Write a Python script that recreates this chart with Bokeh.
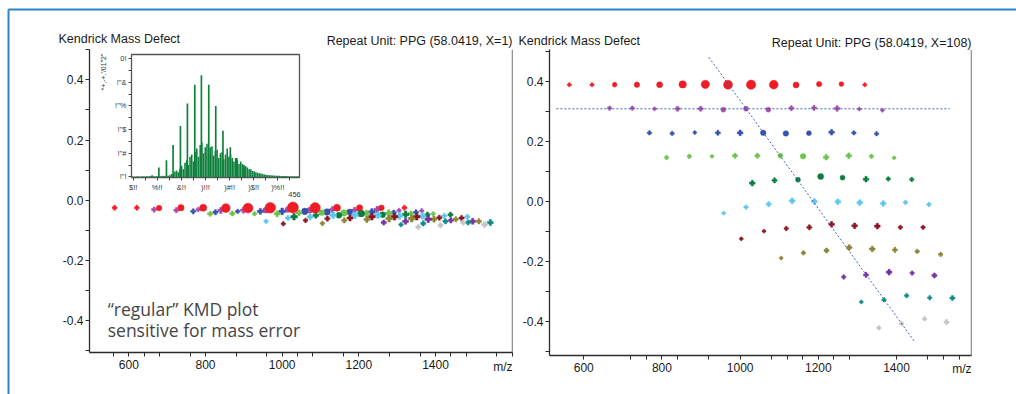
import math
from bokeh.plotting import figure
from bokeh.models import Range1d, FixedTicker, PrintfTickFormatter, Label, Span, ColumnDataSource
from bokeh.embed import file_html
from bokeh.resources import INLINE

# ---------------- data ----------------
# homologous series: m/z, KMD with X=108, KMD with X=1 ("regular"), relative abundance
red_mz = [563, 621, 679, 736, 794, 853, 911, 969, 1028, 1086, 1143, 1202, 1259, 1319]
red_k108 = [0.388, 0.388, 0.388, 0.388, 0.388, 0.389, 0.389, 0.388, 0.388, 0.388, 0.387, 0.390, 0.390, 0.388]
red_k1 = [-0.025, -0.025, -0.026, -0.025, -0.025, -0.026, -0.026, -0.025, -0.024, -0.025, -0.025, -0.025, -0.025, -0.025]
red_ab = [10, 10, 31, 41, 51, 71, 84, 94, 99, 91, 50, 40, 32, 10]

mag_mz = [666, 724, 781, 840, 899, 957, 1015, 1072, 1131, 1189, 1248, 1305, 1364]
mag_k108 = [0.310, 0.310, 0.308, 0.308, 0.308, 0.305, 0.308, 0.305, 0.310, 0.311, 0.309, 0.307, 0.303]
mag_k1 = [-0.031, -0.033, -0.031, -0.034, -0.033, -0.033, -0.031, -0.033, -0.031, -0.033, -0.031, -0.034, -0.035]
mag_ab = [13, 13, 6, 21, 21, 35, 35, 35, 21, 21, 28, 6, 6]

blue_mz = [768, 826, 884, 943, 1000, 1059, 1117, 1176, 1234, 1291, 1349]
blue_k108 = [0.228, 0.226, 0.229, 0.228, 0.228, 0.228, 0.226, 0.227, 0.230, 0.228, 0.225]
blue_k1 = [-0.037, -0.040, -0.037, -0.037, -0.037, -0.037, -0.039, -0.039, -0.039, -0.041, -0.040]
blue_ab = [13, 13, 6, 21, 28, 43, 43, 35, 28, 13, 13]

lgreen_mz = [812, 870, 928, 987, 1044, 1103, 1161, 1220, 1278, 1336, 1394]
lgreen_k108 = [0.146, 0.150, 0.150, 0.152, 0.152, 0.152, 0.150, 0.147, 0.152, 0.150, 0.145]
lgreen_k1 = [-0.045, -0.044, -0.045, -0.045, -0.042, -0.041, -0.042, -0.044, -0.043, -0.044, -0.045]
lgreen_ab = [13, 13, 6, 21, 21, 35, 43, 28, 28, 13, 6]

dgreen_mz = [1031, 1088, 1148, 1206, 1262, 1322, 1379, 1439]
dgreen_k108 = [0.061, 0.070, 0.072, 0.083, 0.079, 0.074, 0.075, 0.073]
dgreen_k1 = [-0.055, -0.050, -0.050, -0.044, -0.048, -0.047, -0.048, -0.048]
dgreen_ab = [28, 21, 35, 50, 35, 28, 13, 13]

lblue_mz = [958, 1015, 1073, 1133, 1190, 1250, 1306, 1366, 1423, 1483]
lblue_k108 = [-0.039, -0.019, -0.009, 0.002, 0.000, -0.001, -0.004, -0.007, -0.003, -0.010]
lblue_k1 = [-0.070, -0.059, -0.055, -0.050, -0.050, -0.050, -0.052, -0.052, -0.052, -0.055]
lblue_ab = [6, 13, 21, 28, 28, 28, 28, 28, 13, 13]

dred_mz = [1003, 1061, 1118, 1177, 1234, 1293, 1351, 1410, 1468]
dred_k108 = [-0.124, -0.099, -0.090, -0.086, -0.076, -0.081, -0.082, -0.086, -0.086]
dred_k1 = [-0.078, -0.067, -0.061, -0.059, -0.055, -0.055, -0.055, -0.058, -0.059]
dred_ab = [6, 6, 13, 21, 28, 28, 28, 13, 13]

olive_mz = [1105, 1162, 1221, 1279, 1338, 1396, 1453, 1513]
olive_k108 = [-0.188, -0.171, -0.163, -0.153, -0.158, -0.161, -0.166, -0.176]
olive_k1 = [-0.077, -0.067, -0.064, -0.061, -0.061, -0.063, -0.063, -0.070]
olive_ab = [6, 13, 21, 28, 28, 21, 13, 13]

purple_mz = [1265, 1322, 1381, 1440, 1497]
purple_k108 = [-0.251, -0.244, -0.235, -0.238, -0.246]
purple_k1 = [-0.074, -0.070, -0.063, -0.067, -0.070]
purple_ab = [13, 21, 28, 13, 21]

teal_mz = [1310, 1368, 1426, 1485, 1543]
teal_k108 = [-0.334, -0.327, -0.313, -0.320, -0.321]
teal_k1 = [-0.081, -0.077, -0.070, -0.074, -0.074]
teal_ab = [6, 13, 13, 13, 21]

gray_mz = [1355, 1413, 1472, 1528]
gray_k108 = [-0.420, -0.406, -0.390, -0.401]
gray_k1 = [-0.089, -0.083, -0.074, -0.081]
gray_ab = [13, 13, 13, 21]

# guide lines drawn in the X=108 plot
guide_h_mz = [530, 1536]
guide_h_kmd = [0.308, 0.308]
guide_d_mz = [920, 1447]
guide_d_kmd = [0.479, -0.467]

# inset mass spectrum (relative intensity, %)
spec_peak_mz = [557, 613, 676, 731, 792, 850, 911, 966, 1027, 1085, 1145, 1206, 1260, 1319]
spec_peak_int = [1.5, 8, 14, 27, 43, 62, 78, 86, 78, 60, 39, 25, 16, 10]
spec_bg_mz = [396, 410, 424, 438, 452, 466, 480, 494, 508, 522, 536, 550, 564, 578, 592, 606, 620, 634, 648, 662, 676,
              690, 704, 718, 732, 746, 760, 774, 788, 802, 816, 830, 844, 858, 872, 886, 900, 914, 928, 942, 956,
              970, 984, 998, 1012, 1026, 1040, 1054, 1068, 1082, 1096, 1110, 1124, 1138, 1152, 1166, 1180, 1194,
              1208, 1222, 1236, 1250, 1264, 1278, 1292, 1306, 1320, 1334, 1348, 1362, 1376, 1390, 1404, 1418,
              1432, 1446, 1460, 1474, 1488, 1502, 1516, 1530, 1544, 1558, 1572, 1586, 1600, 1614, 1628, 1642,
              1656, 1670, 1684, 1698, 1712, 1726, 1740, 1754, 1768]
spec_bg_int = [0.4, 0.4, 0.4, 0.5, 0.4, 0.4, 0.5, 0.4, 0.5, 0.5, 0.6, 0.8, 0.6, 0.5, 0.6, 0.7, 0.6, 0.8, 0.9, 0.8, 0.9,
               1.0, 1.5, 2.5, 2.0, 4.5, 5.5, 4.0, 7.0, 9.5, 6.5, 12, 14, 10, 17, 19, 13, 21, 24, 17, 27,
               29, 20, 25, 28, 19, 25, 26, 18, 22, 23, 16, 20, 21, 15, 19, 24,
               17, 19, 16, 13, 16, 14, 11, 13, 11, 8.5, 9, 8, 6.5, 6.5, 5, 4.8, 4,
               3.5, 3, 2.8, 2.4, 2, 1.9, 1.7, 1.5, 1.3, 1.2, 1.1, 1.0, 0.9, 0.9, 0.8, 0.8,
               0.7, 0.7, 0.6, 0.6, 0.6, 0.5, 0.5, 0.5, 0.5]

# tick labels
main_x_ticks = [600, 800, 1000, 1200, 1400]
main_y_ticks = [-0.4, -0.2, 0.0, 0.2, 0.4]
inset_x_labels = {400: "$!!", 600: "%!!", 800: "&!!", 1000: ")!!!", 1200: ")#!!", 1400: ")$!!", 1600: ")%!!"}
inset_y_labels = {0: '!"!', 20: '!"#', 40: '!"$', 60: '!"%', 80: '!"&', 100: "0!"}

# ---------------- styling ----------------
AXF = "Liberation Sans"
AXC = "#2b2b2b"
BLUE_FRAME = "#2b84c9"
SERIES = [
    (mag_mz, mag_k108, mag_k1, mag_ab, "#a64ca6"),
    (blue_mz, blue_k108, blue_k1, blue_ab, "#3552ad"),
    (lgreen_mz, lgreen_k108, lgreen_k1, lgreen_ab, "#6cc24a"),
    (dgreen_mz, dgreen_k108, dgreen_k1, dgreen_ab, "#0a7d3e"),
    (lblue_mz, lblue_k108, lblue_k1, lblue_ab, "#5cc6ee"),
    (dred_mz, dred_k108, dred_k1, dred_ab, "#8a1521"),
    (olive_mz, olive_k108, olive_k1, olive_ab, "#8a8432"),
    (purple_mz, purple_k108, purple_k1, purple_ab, "#7332a0"),
    (teal_mz, teal_k108, teal_k1, teal_ab, "#0e8a8a"),
    (gray_mz, gray_k108, gray_k1, gray_ab, "#c4c4c4"),
    (red_mz, red_k108, red_k1, red_ab, "#ee1c25"),
]


def place(p, left, top, z):
    p.styles = {"position": "absolute", "left": f"{left}px", "top": f"{top}px", "z-index": str(z)}


def make_main(width, xr, yr, bl, br, bt, bb, minor_x):
    p = figure(width=width, height=384, x_range=Range1d(*xr), y_range=Range1d(*yr),
               output_backend="svg", toolbar_location=None,
               min_border_left=bl, min_border_right=br, min_border_top=bt, min_border_bottom=bb)
    p.grid.visible = False
    p.outline_line_color = None
    p.background_fill_color = "white"
    p.border_fill_color = "white"
    xa = p.xaxis[0]
    xa.ticker = FixedTicker(ticks=main_x_ticks, minor_ticks=minor_x)
    ya = p.yaxis[0]
    ya.ticker = FixedTicker(ticks=main_y_ticks, minor_ticks=[-0.5, -0.3, -0.1, 0.1, 0.3, 0.5])
    ya.formatter = PrintfTickFormatter(format="%.1f")
    for a in (xa, ya):
        a.axis_line_color = AXC
        a.axis_line_width = 1.3
        a.major_tick_line_color = AXC
        a.minor_tick_line_color = AXC
        a.major_tick_in = 0
        a.minor_tick_in = 0
        a.major_tick_out = 4
        a.minor_tick_out = 4
        a.major_label_text_font = AXF
        a.major_label_text_font_size = "12px"
        a.major_label_text_color = "#1a1a1a"
    xa.major_label_standoff = 3
    ya.major_label_standoff = 2
    p.add_layout(Span(location=xr[1], dimension="height", line_color=AXC, line_width=1.3))
    return p


def add_points(p, which, scale):
    for mz, k108, k1, ab, col in SERIES:
        ys = k108 if which == 108 else k1
        sizes, markers = [], []
        for a in ab:
            s = (2.6 + 0.068 * a) * scale
            if a < 30:
                markers.append("plus")
                sizes.append(s * 1.25)
            else:
                markers.append("circle")
                sizes.append(s)
        src = ColumnDataSource(dict(x=mz, y=ys, size=sizes, marker=markers))
        p.scatter(x="x", y="y", size="size", marker="marker", source=src,
                  fill_color=col, line_color=col, line_width=0.5)


# ---------------- left panel: regular KMD (X=1) ----------------
LX = (497.5, 1600.8)
LY = (-0.506, 0.501)
left = make_main(507, LX, LY, 79, 5, 39, 42,
                 [560, 640, 680, 760, 880, 960, 1040, 1080, 1160, 1280, 1360, 1440, 1480, 1560, 1600])
add_points(left, 1, 1.18)
for txt, yy in (("\u201cregular\u201d KMD plot", -0.361), ("sensitive for mass error", -0.431)):
    left.add_layout(Label(x=545, y=yy, text=txt, text_align="left", text_baseline="middle",
                          text_font="Open Sans", text_font_size="17.5px", text_color="#454545"))
place(left, 10, 10, 1)

# ---------------- right panel: KMD with X=108 ----------------
RX = (512.3, 1591.9)
RY = (-0.512, 0.505)
right = make_main(499, RX, RY, 32, 45, 39, 39,
                  [720, 760, 840, 920, 1080, 1120, 1160, 1240, 1280, 1480, 1520, 1560])
add_points(right, 108, 1.0)
right.line(guide_h_mz, guide_h_kmd, line_color="#3d63c4", line_width=1, line_dash="2 2")
right.line(guide_d_mz, guide_d_kmd, line_color="#3d63c4", line_width=1, line_dash="2 2")
place(right, 517, 10, 1)

# ---------------- inset: mass spectrum ----------------
GREEN = "#10803d"
ins = figure(width=204, height=149, x_range=Range1d(386, 1780), y_range=Range1d(-0.5, 103.5),
             output_backend="svg", toolbar_location=None,
             min_border_left=33, min_border_right=3, min_border_top=2, min_border_bottom=24)
ins.grid.visible = False
ins.background_fill_color = "white"
ins.border_fill_color = None
ins.outline_line_color = "#555555"
ins.outline_line_width = 1.3
ins.vbar(x=spec_bg_mz, top=spec_bg_int, bottom=0, width=13, fill_color=GREEN, line_color=None)
ins.vbar(x=spec_peak_mz, top=spec_peak_int, bottom=0, width=14, fill_color=GREEN, line_color=None)
ix = ins.xaxis[0]
iy = ins.yaxis[0]
ix.ticker = FixedTicker(ticks=list(inset_x_labels.keys()), minor_ticks=[500, 700, 900, 1100, 1300, 1500, 1700])
iy.ticker = FixedTicker(ticks=list(inset_y_labels.keys()), minor_ticks=[10, 30, 50, 70, 90])
ix.major_label_overrides = inset_x_labels
iy.major_label_overrides = inset_y_labels
for a in (ix, iy):
    a.axis_line_color = None
    a.major_tick_line_color = "#444444"
    a.minor_tick_line_color = "#444444"
    a.major_tick_in = 0
    a.minor_tick_in = 0
    a.major_tick_out = 3
    a.minor_tick_out = 3
    a.major_label_text_font = AXF
    a.major_label_text_font_size = "7.5px"
    a.major_label_text_color = "#333333"
    a.major_label_standoff = 2
place(ins, 98, 52, 2)

# ---------------- page-level texts and frame lines (page pixel coordinates) ----------------
ov = figure(width=1016, height=394, x_range=Range1d(0, 1016), y_range=Range1d(394, 0),
            output_backend="svg", toolbar_location=None, x_axis_location=None, y_axis_location=None,
            min_border=0, min_border_left=0, min_border_right=0, min_border_top=0, min_border_bottom=0)
ov.grid.visible = False
ov.outline_line_color = None
ov.background_fill_color = None
ov.border_fill_color = None
ov.segment(x0=[8, 8], y0=[9, 9], x1=[1016, 8], y1=[9, 394], line_color=BLUE_FRAME, line_width=2)


def otext(x, y, text, align, size="12.5px", angle=0.0, color="#1a1a1a"):
    ov.add_layout(Label(x=x, y=y, text=text, text_align=align, text_baseline="middle", angle=angle,
                        text_font=AXF, text_font_size=size, text_color=color))


otext(58, 38.5, "Kendrick Mass Defect", "left")
otext(512, 40, "Repeat Unit: PPG (58.0419, X=1)", "right")
otext(512, 366, "m/z", "right", size="12px")
otext(518, 40, "Kendrick Mass Defect", "left")
otext(971, 42, "Repeat Unit: PPG (58.0419, X=108)", "right")
otext(971, 368, "m/z", "right", size="12px")
otext(294, 194, "456", "center", size="7.5px", color="#333333")
otext(103, 53, "*+,-+.'/01\"2\"", "right", size="7px", angle=math.pi / 2, color="#333333")
place(ov, 0, 0, 3)

open("out.html", "w").write(file_html([left, right, ins, ov], INLINE))
